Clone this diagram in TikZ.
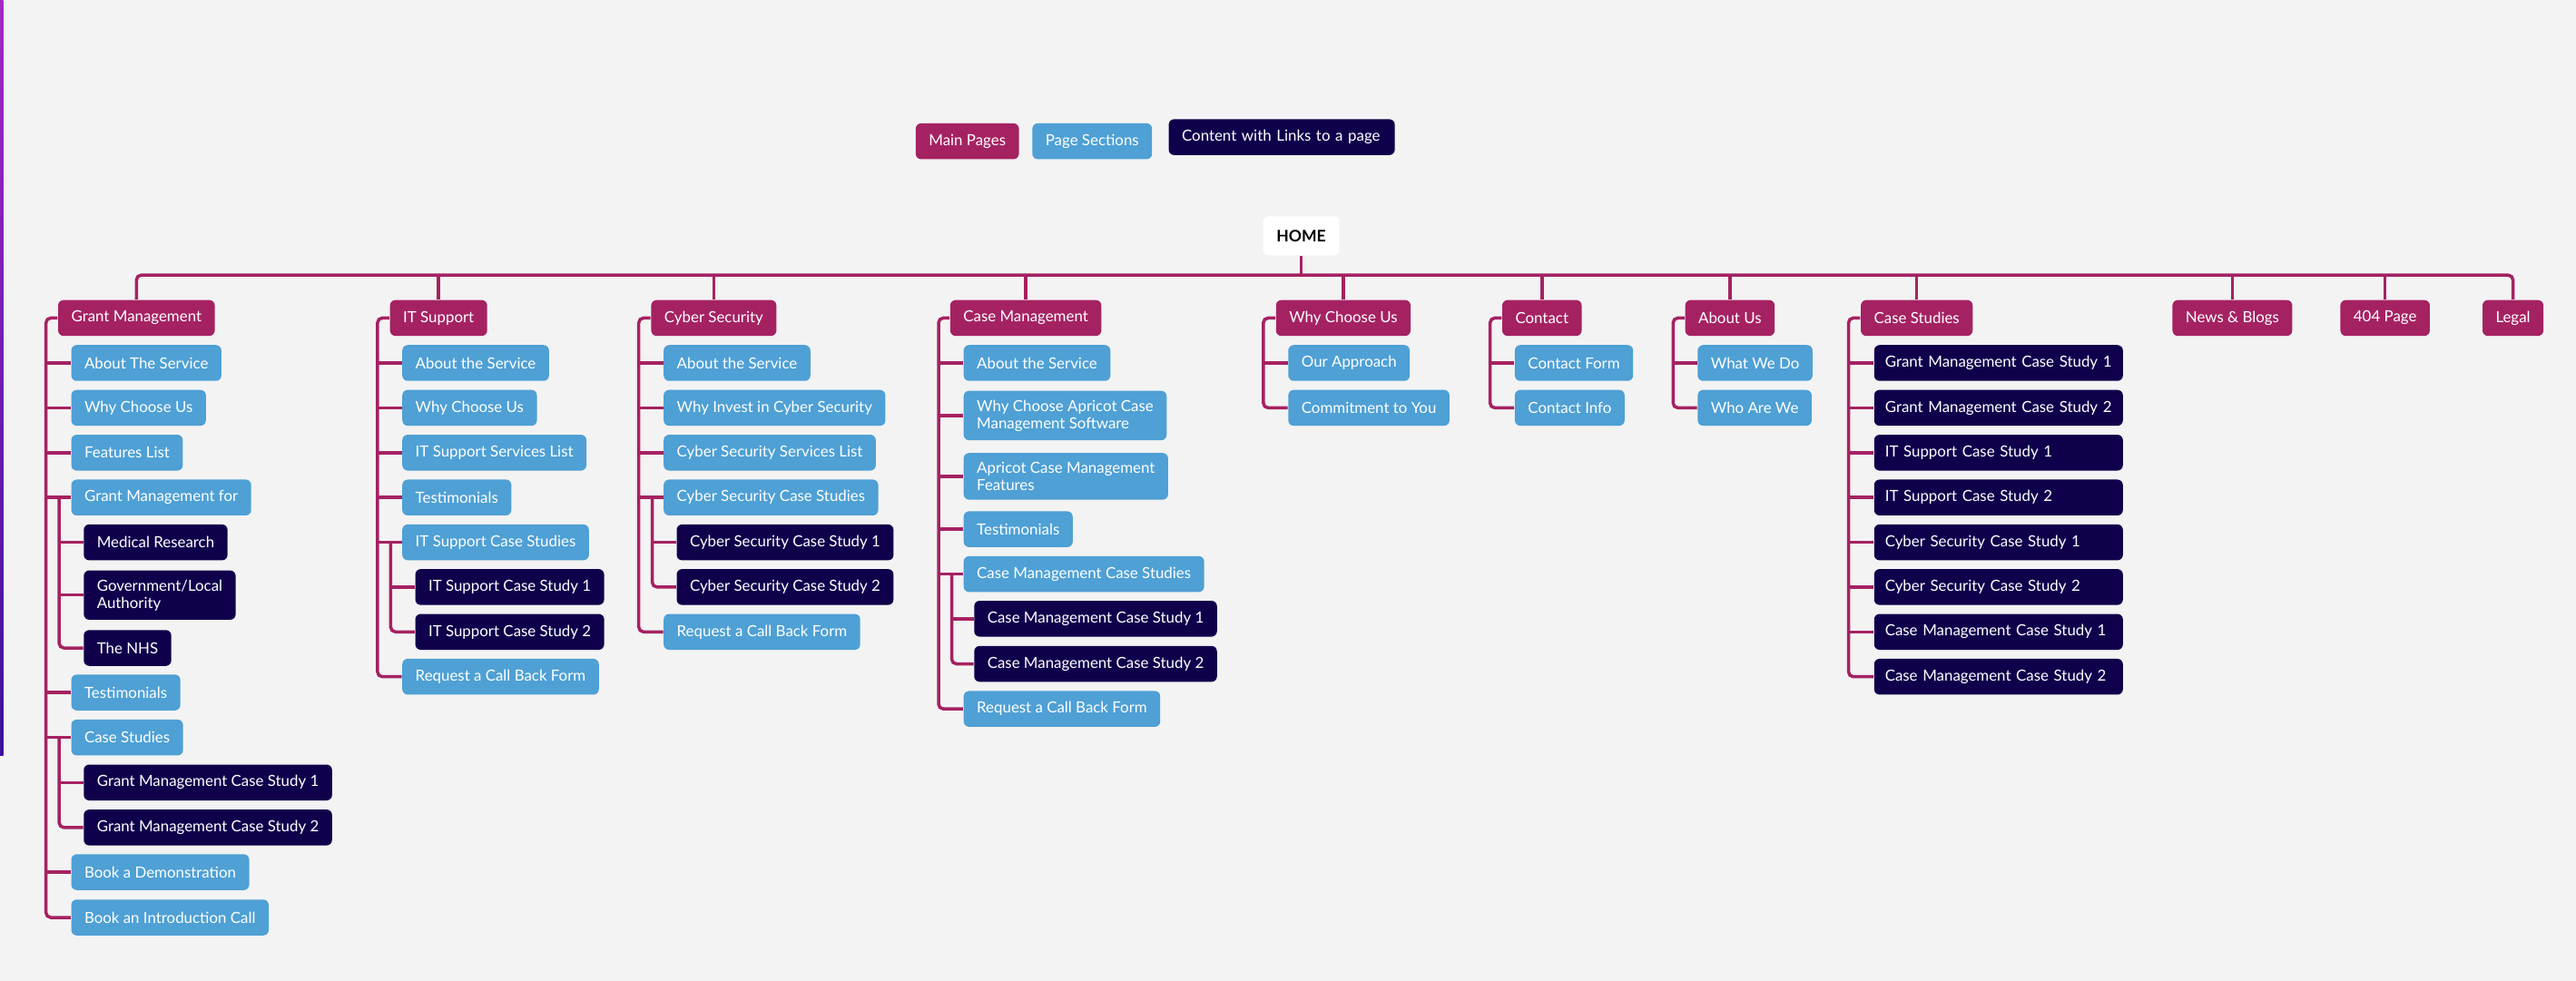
\documentclass[tikz,border=0pt]{standalone}
\usepackage{fontspec}
\setmainfont{Lato}
\definecolor{mainpg}{HTML}{A52262}
\definecolor{sectpg}{HTML}{4EA0D5}
\definecolor{linkpg}{HTML}{10004C}
\definecolor{paper}{HTML}{F3F3F3}
\definecolor{barTop}{HTML}{A528C4}
\definecolor{barBot}{HTML}{3B129A}
\begin{document}
\begin{tikzpicture}[x=0.0181cm, y=-0.0181cm,
	box/.style={rectangle, rounded corners=1.7pt, anchor=west, text=white, align=left, inner xsep=0.145cm, inner ysep=0.1cm, minimum height=0.395cm, font=\fontsize{4.8}{5.4}\selectfont},
	mainpage/.style={box, fill=mainpg},
	section/.style={box, fill=sectpg},
	linked/.style={box, fill=linkpg},
	study/.style={linked, text width=2.5cm, inner xsep=0.12cm},
	link/.style={draw=mainpg, line width=1pt, rounded corners=1.5pt}]
			
			\fill[paper] (0,0) rectangle (1568,597);
			\shade[top color=barTop, bottom color=barBot] (0,0) rectangle (2,460);
			\useasboundingbox (0,0) rectangle (1568,597);
			
			% Key
			\node[mainpage] (key1) at (557,86) {Main Pages};
			\node[section] (key2) at (628,86) {Page Sections};
			\node[linked, text width=2.2cm] (key3) at (711,83.5) {Content with Links to a page};
			
			% Nodes
			\node[box, anchor=center, fill=white, text=black, minimum width=0.84cm, minimum height=0.43cm, font=\fontsize{5}{6}\selectfont\bfseries] (home) at (792,143.6) {HOME};
			
			\node[mainpage] (gm) at (35,193.6) {Grant Management};
			\node[mainpage] (it) at (237,193.6) {IT Support};
			\node[mainpage] (cs) at (396,193.6) {Cyber Security};
			\node[mainpage] (cm) at (578,193.6) {Case Management};
			\node[mainpage] (wc) at (776.3,193.6) {Why Choose Us};
			\node[mainpage] (ct) at (914,193.6) {Contact};
			\node[mainpage] (au) at (1025.4,193.6) {About Us};
			\node[mainpage] (st) at (1132.3,193.6) {Case Studies};
			\node[mainpage] (nb) at (1322,193.6) {News \& Blogs};
			\node[mainpage] (np) at (1424.2,193.6) {404 Page};
			\node[mainpage] (lg) at (1510.7,193.6) {Legal};
			
			\node[section] (gm1) at (43,221) {About The Service};
			\node[section] (gm2) at (43,248.3) {Why Choose Us};
			\node[section] (gm3) at (43,275.6) {Features List};
			\node[section] (gm4) at (43,302.9) {Grant Management for};
			\node[linked] (gm5) at (50.6,330.2) {Medical Research};
			\node[linked] (gm6) at (50.6,362.3) {Government/Local\\Authority};
			\node[linked] (gm7) at (50.6,394.5) {The NHS};
			\node[section] (gm8) at (43,421.6) {Testimonials};
			\node[section] (gm9) at (43,449) {Case Studies};
			\node[linked] (gm10) at (50.6,476.4) {Grant Management Case Study 1};
			\node[linked] (gm11) at (50.6,503.8) {Grant Management Case Study 2};
			\node[section] (gm12) at (43,531) {Book a Demonstration};
			\node[section] (gm13) at (43,558.6) {Book an Introduction Call};
			
			\node[section] (it1) at (244.5,221) {About the Service};
			\node[section] (it2) at (244.5,248.3) {Why Choose Us};
			\node[section] (it3) at (244.5,275.6) {IT Support Services List};
			\node[section] (it4) at (244.5,302.9) {Testimonials};
			\node[section] (it5) at (244.5,330.2) {IT Support Case Studies};
			\node[linked] (it6) at (252.4,357.4) {IT Support Case Study 1};
			\node[linked] (it7) at (252.4,384.7) {IT Support Case Study 2};
			\node[section] (it8) at (244.5,412) {Request a Call Back Form};
			
			\node[section] (cs1) at (403.6,221) {About the Service};
			\node[section] (cs2) at (403.6,248.3) {Why Invest in Cyber Security};
			\node[section] (cs3) at (403.6,275.6) {Cyber Security Services List};
			\node[section] (cs4) at (403.6,302.9) {Cyber Security Case Studies};
			\node[linked] (cs5) at (411.5,330.2) {Cyber Security Case Study 1};
			\node[linked] (cs6) at (411.5,357.4) {Cyber Security Case Study 2};
			\node[section] (cs7) at (403.6,384.7) {Request a Call Back Form};
			
			\node[section] (cm1) at (586.2,221) {About the Service};
			\node[section] (cm2) at (586.2,253) {Why Choose Apricot Case\\Management Software};
			\node[section] (cm3) at (586.2,290) {Apricot Case Management\\Features};
			\node[section] (cm4) at (586.2,322.2) {Testimonials};
			\node[section] (cm5) at (586.2,349.5) {Case Management Case Studies};
			\node[linked] (cm6) at (592.6,376.7) {Case Management Case Study 1};
			\node[linked] (cm7) at (592.6,404.2) {Case Management Case Study 2};
			\node[section] (cm8) at (586.2,431.6) {Request a Call Back Form};
			
			\node[section] (wc1) at (783.8,221) {Our Approach};
			\node[section] (wc2) at (783.8,248.3) {Commitment to You};
			
			\node[section] (ct1) at (921.7,221) {Contact Form};
			\node[section] (ct2) at (921.7,248.3) {Contact Info};
			
			\node[section] (au1) at (1033,221) {What We Do};
			\node[section] (au2) at (1033,248.3) {Who Are We};
			
			\node[study] (st1) at (1140.4,221) {Grant Management Case Study 1};
			\node[study] (st2) at (1140.4,248.3) {Grant Management Case Study 2};
			\node[study] (st3) at (1140.4,275.6) {IT Support Case Study 1};
			\node[study] (st4) at (1140.4,302.9) {IT Support Case Study 2};
			\node[study] (st5) at (1140.4,330.2) {Cyber Security Case Study 1};
			\node[study] (st6) at (1140.4,357.4) {Cyber Security Case Study 2};
			\node[study] (st7) at (1140.4,384.7) {Case Management Case Study 1};
			\node[study] (st8) at (1140.4,412) {Case Management Case Study 2};
			
			% Trunk points
			\coordinate (bus) at (0,167.5);
			\coordinate (gmt) at (28,193.6);
			\coordinate (gm4t) at (36,302.9);
			\coordinate (gm9t) at (36,449);
			\coordinate (itt) at (229.8,193.6);
			\coordinate (it5t) at (237.8,330.2);
			\coordinate (cst) at (388.8,193.6);
			\coordinate (cs4t) at (397,302.9);
			\coordinate (cmt) at (571.3,193.6);
			\coordinate (cm5t) at (579.3,349.5);
			\coordinate (wct) at (769,193.6);
			\coordinate (ctt) at (907,193.6);
			\coordinate (aut) at (1018.4,193.6);
			\coordinate (stt) at (1125.2,193.6);
			
			% Edges
			\draw[link] (gm.north) |- (bus -| lg.north) -- (lg.north);
			\draw[link] (home.south) -- (home.south |- bus);
			\draw[link] (it.north) -- (it.north |- bus);
			\draw[link] (cs.north) -- (cs.north |- bus);
			\draw[link] (cm.north) -- (cm.north |- bus);
			\draw[link] (wc.north) -- (wc.north |- bus);
			\draw[link] (ct.north) -- (ct.north |- bus);
			\draw[link] (au.north) -- (au.north |- bus);
			\draw[link] (st.north) -- (st.north |- bus);
			\draw[link] (nb.north) -- (nb.north |- bus);
			\draw[link] (np.north) -- (np.north |- bus);
			
			\draw[link] (gm.west) -- (gmt) |- (gm13.west);
			\draw[link] (gmt |- gm1.west) -- (gm1.west);
			\draw[link] (gmt |- gm2.west) -- (gm2.west);
			\draw[link] (gmt |- gm3.west) -- (gm3.west);
			\draw[link] (gmt |- gm4.west) -- (gm4.west);
			\draw[link] (gmt |- gm8.west) -- (gm8.west);
			\draw[link] (gmt |- gm9.west) -- (gm9.west);
			\draw[link] (gmt |- gm12.west) -- (gm12.west);
			\draw[link] (gm4t) |- (gm7.west);
			\draw[link] (gm4t |- gm5.west) -- (gm5.west);
			\draw[link] (gm4t |- gm6.west) -- (gm6.west);
			\draw[link] (gm9t) |- (gm11.west);
			\draw[link] (gm9t |- gm10.west) -- (gm10.west);
			
			\draw[link] (it.west) -- (itt) |- (it8.west);
			\draw[link] (itt |- it1.west) -- (it1.west);
			\draw[link] (itt |- it2.west) -- (it2.west);
			\draw[link] (itt |- it3.west) -- (it3.west);
			\draw[link] (itt |- it4.west) -- (it4.west);
			\draw[link] (itt |- it5.west) -- (it5.west);
			\draw[link] (it5t) |- (it7.west);
			\draw[link] (it5t |- it6.west) -- (it6.west);
			
			\draw[link] (cs.west) -- (cst) |- (cs7.west);
			\draw[link] (cst |- cs1.west) -- (cs1.west);
			\draw[link] (cst |- cs2.west) -- (cs2.west);
			\draw[link] (cst |- cs3.west) -- (cs3.west);
			\draw[link] (cst |- cs4.west) -- (cs4.west);
			\draw[link] (cs4t) |- (cs6.west);
			\draw[link] (cs4t |- cs5.west) -- (cs5.west);
			
			\draw[link] (cm.west) -- (cmt) |- (cm8.west);
			\draw[link] (cmt |- cm1.west) -- (cm1.west);
			\draw[link] (cmt |- cm2.west) -- (cm2.west);
			\draw[link] (cmt |- cm3.west) -- (cm3.west);
			\draw[link] (cmt |- cm4.west) -- (cm4.west);
			\draw[link] (cmt |- cm5.west) -- (cm5.west);
			\draw[link] (cm5t) |- (cm7.west);
			\draw[link] (cm5t |- cm6.west) -- (cm6.west);
			
			\draw[link] (wc.west) -- (wct) |- (wc2.west);
			\draw[link] (wct |- wc1.west) -- (wc1.west);
			
			\draw[link] (ct.west) -- (ctt) |- (ct2.west);
			\draw[link] (ctt |- ct1.west) -- (ct1.west);
			
			\draw[link] (au.west) -- (aut) |- (au2.west);
			\draw[link] (aut |- au1.west) -- (au1.west);
			
			\draw[link] (st.west) -- (stt) |- (st8.west);
			\draw[link] (stt |- st1.west) -- (st1.west);
			\draw[link] (stt |- st2.west) -- (st2.west);
			\draw[link] (stt |- st3.west) -- (st3.west);
			\draw[link] (stt |- st4.west) -- (st4.west);
			\draw[link] (stt |- st5.west) -- (st5.west);
			\draw[link] (stt |- st6.west) -- (st6.west);
			\draw[link] (stt |- st7.west) -- (st7.west);
			
		\end{tikzpicture}
\end{document}
